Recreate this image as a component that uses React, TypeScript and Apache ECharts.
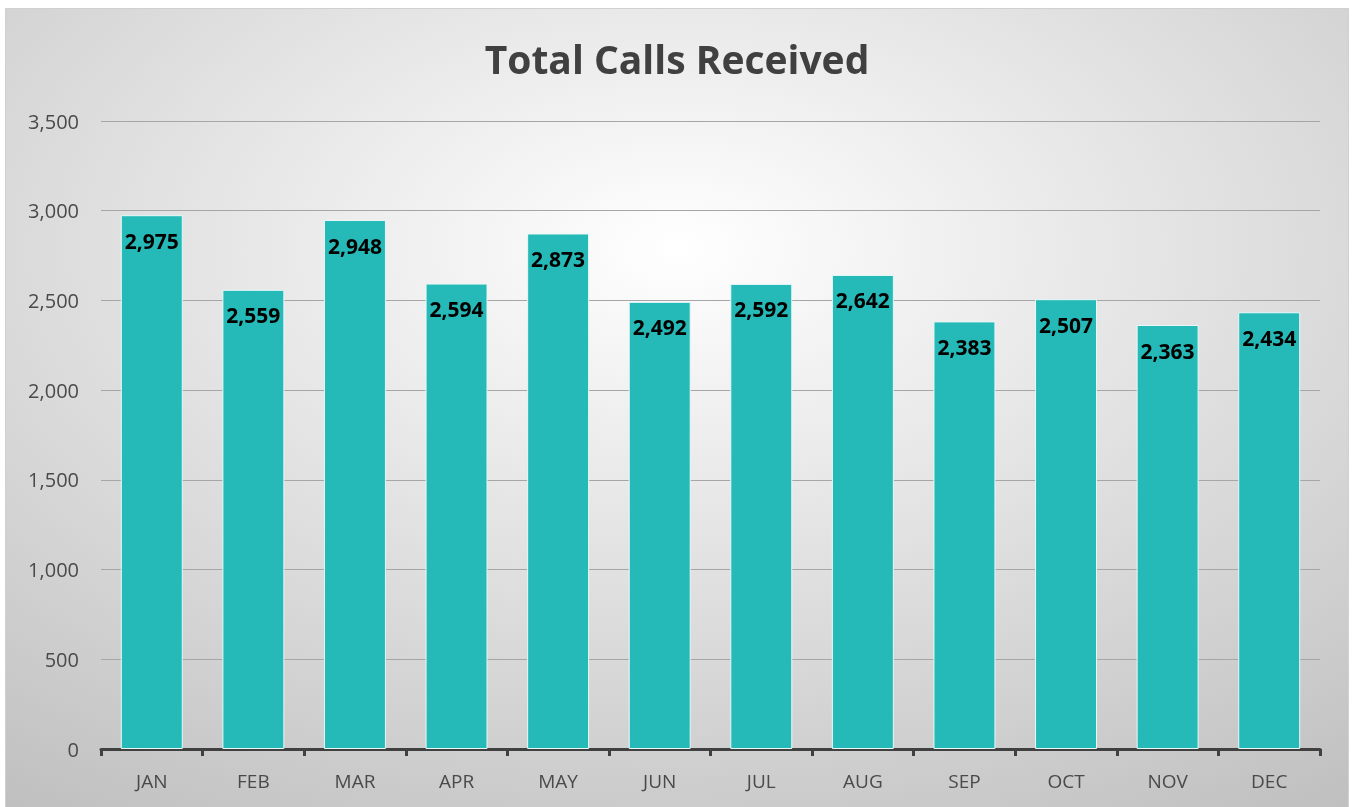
import React, { useEffect, useRef } from "react";
import * as echarts from "echarts";

const months = ["JAN", "FEB", "MAR", "APR", "MAY", "JUN", "JUL", "AUG", "SEP", "OCT", "NOV", "DEC"];
const calls = [2975, 2559, 2948, 2594, 2873, 2492, 2592, 2642, 2383, 2507, 2363, 2434];
const yMin = 0;
const yMax = 3500;
const yStep = 500;

const fmt = (v: number) => v.toLocaleString("en-US");

export default function App() {
  const ref = useRef<HTMLDivElement>(null);
  useEffect(() => {
    const chart = echarts.init(ref.current!, null, { renderer: "svg" });
    chart.setOption({
      animation: false,
      backgroundColor: {
        type: "radial",
        x: 0.5,
        y: 0.3,
        r: 0.85,
        colorStops: [
          { offset: 0, color: "#ffffff" },
          { offset: 1, color: "#c0c0c0" },
        ],
      },
      title: {
        text: "Total Calls Received",
        left: "center",
        top: 25,
        textStyle: {
          fontFamily: "Open Sans",
          fontWeight: "bold",
          fontSize: 39,
          color: "#404040",
        },
      },
      grid: { left: 95, right: 28, top: 112, bottom: 58 },
      xAxis: {
        type: "category",
        data: months,
        axisLine: { lineStyle: { color: "#404040", width: 3 } },
        axisTick: { show: true, length: 7, lineStyle: { color: "#404040", width: 3 } },
        axisLabel: { fontFamily: "Open Sans", fontSize: 19, color: "#4a4a4a", margin: 22 },
      },
      yAxis: {
        type: "value",
        min: yMin,
        max: yMax,
        interval: yStep,
        axisLine: { show: false },
        axisTick: { show: false },
        axisLabel: {
          fontFamily: "Open Sans",
          fontSize: 20,
          color: "#4a4a4a",
          margin: 22,
          formatter: (v: number) => fmt(v),
        },
        splitLine: { lineStyle: { color: "#a6a6a6", width: 1 } },
      },
      series: [
        {
          type: "bar",
          data: calls,
          barWidth: "61%",
          itemStyle: { color: "#25bab7", borderColor: "#e8f8f7", borderWidth: 1 },
          label: {
            show: true,
            position: "insideTop",
            distance: 15,
            fontFamily: "Open Sans",
            fontWeight: "bold",
            fontSize: 21,
            color: "#000000",
            formatter: (p: any) => fmt(p.value),
          },
        },
      ],
    });
    return () => chart.dispose();
  }, []);
  return (
    <div
      ref={ref}
      style={{
        position: "fixed",
        left: 5,
        top: 8,
        width: 1344,
        height: 800,
        border: "1px solid #d0d0d0",
        boxSizing: "border-box",
      }}
    />
  );
}
